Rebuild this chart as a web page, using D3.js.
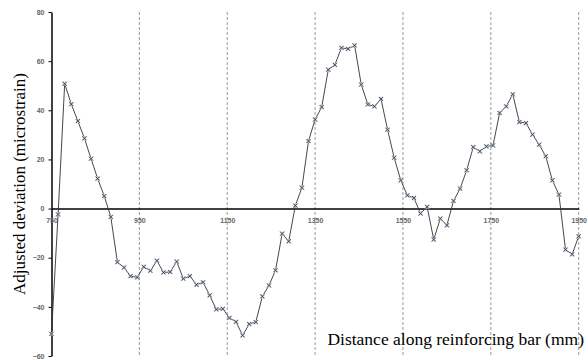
<!DOCTYPE html>
<html>
<head>
<meta charset="utf-8">
<script src="https://cdn.jsdelivr.net/npm/d3@7"></script>
<style>
body { margin: 0; background: #fff; }
svg { display: block; }
</style>
</head>
<body>
<svg width="588" height="360"></svg>
<script>
// distance along bar (mm) and adjusted deviation (microstrain)
var distances = [750, 765, 780, 795, 810, 825, 840, 855, 870, 885, 900, 915, 930, 945, 960, 975,
    990, 1005, 1020, 1035, 1050, 1065, 1080, 1095, 1110, 1125, 1140, 1155, 1170, 1185, 1200, 1215,
    1230, 1245, 1260, 1275, 1290, 1305, 1320, 1335, 1350, 1365, 1380, 1395, 1410, 1425, 1440, 1455,
    1470, 1485, 1500, 1515, 1530, 1545, 1560, 1575, 1590, 1605, 1620, 1635, 1650, 1665, 1680, 1695,
    1710, 1725, 1740, 1755, 1770, 1785, 1800, 1815, 1830, 1845, 1860, 1875, 1890, 1905, 1920, 1935, 1950];
var deviations = [-51, -2.4, 50.8, 42.5, 35.6, 28.6, 20.3, 12.2, 5.1, -3.4, -21.8, -24, -27.5, -28, -23.7, -25.3,
    -21.2, -26, -25.8, -21.6, -28.5, -27.5, -31, -30, -35.3, -41, -40.8, -44.5, -46.1, -51.6, -47, -46.2,
    -35.7, -31.3, -25.1, -10.2, -13.3, 1.2, 8.5, 27.5, 36.2, 41.3, 56.5, 58.5, 65.4, 65, 66.4, 50.5,
    42.4, 41.6, 44.6, 32.1, 20.7, 11.5, 5.4, 4.3, -2, 0.7, -12.6, -4.1, -6.8, 3.1, 8.1, 15.6,
    25, 23.3, 25.3, 25.7, 38.9, 41.6, 46.5, 35.2, 34.8, 30.1, 26, 21.3, 11.5, 5.7, -16.7, -18.6, -11.3];
var xTicks = [750, 950, 1150, 1350, 1550, 1750, 1950];
var gridLines = [950, 1150, 1350, 1550, 1750, 1950];
var yTicks = [-60, -40, -20, 0, 20, 40, 60, 80];

var data = distances.map(function(d, i) { return [d, deviations[i]]; });

var svg = d3.select("svg");

var x = d3.scaleLinear().domain([750, 1950]).range([51.5, 578.7]);
var y = d3.scaleLinear().domain([-60, 80]).range([356, 12]);

// dashed verticals
svg.append("g").selectAll("line")
    .data(gridLines)
    .enter().append("line")
    .attr("x1", function(d) { return x(d); })
    .attr("x2", function(d) { return x(d); })
    .attr("y1", y(80))
    .attr("y2", y(-60))
    .attr("stroke", "#9a9a9a")
    .attr("stroke-width", 1)
    .attr("stroke-dasharray", "3,2");

// y axis
var yAxis = d3.axisLeft(y).tickValues(yTicks).tickSize(3).tickSizeOuter(0).tickPadding(4);
var gy = svg.append("g")
    .attr("transform", "translate(" + x(750) + ",0)")
    .call(yAxis);
gy.select(".domain").attr("stroke", "#000").attr("stroke-width", 1.5);
gy.selectAll(".tick line").attr("stroke", "#000");
gy.selectAll("text")
    .attr("font-family", "'Liberation Sans', Arial, sans-serif")
    .attr("font-size", 7)
    .attr("font-weight", "bold")
    .attr("fill", "#666");

// x axis along zero
var xAxis = d3.axisBottom(x).tickValues(xTicks).tickFormat(d3.format("d"))
    .tickSize(0).tickSizeOuter(0).tickPadding(9);
var gx = svg.append("g")
    .attr("transform", "translate(0," + y(0) + ")")
    .call(xAxis);
gx.select(".domain").attr("stroke", "#000").attr("stroke-width", 1.5);
gx.selectAll("text")
    .attr("font-family", "'Liberation Sans', Arial, sans-serif")
    .attr("font-size", 7)
    .attr("font-weight", "bold")
    .attr("fill", "#666");

// series line
var line = d3.line()
    .x(function(d) { return x(d[0]); })
    .y(function(d) { return y(d[1]); });

svg.append("path")
    .datum(data)
    .attr("fill", "none")
    .attr("stroke", "#333")
    .attr("stroke-width", 0.9)
    .attr("d", line);

// x markers
var s = 2;
var cross = function(d) {
    var cx = x(d[0]), cy = y(d[1]);
    return "M" + (cx - s) + "," + (cy - s) + "L" + (cx + s) + "," + (cy + s) +
        "M" + (cx - s) + "," + (cy + s) + "L" + (cx + s) + "," + (cy - s);
};
var marks = svg.append("g");
marks.selectAll("path.halo")
    .data(data)
    .enter().append("path")
    .attr("class", "halo")
    .attr("d", cross)
    .attr("stroke", "#c3cddb")
    .attr("stroke-width", 1.8)
    .attr("fill", "none");
marks.selectAll("path.mk")
    .data(data)
    .enter().append("path")
    .attr("class", "mk")
    .attr("d", cross)
    .attr("stroke", "#2a3040")
    .attr("stroke-width", 0.8)
    .attr("fill", "none");

// axis titles
svg.append("text")
    .attr("transform", "translate(25," + ((y(80) + y(-60)) / 2) + ") rotate(-90)")
    .attr("text-anchor", "middle")
    .attr("font-family", "'Liberation Serif', 'Times New Roman', serif")
    .attr("font-size", 17)
    .attr("fill", "#000")
    .text("Adjusted deviation (microstrain)");

svg.append("text")
    .attr("x", 584)
    .attr("y", 345)
    .attr("text-anchor", "end")
    .attr("font-family", "'Liberation Serif', 'Times New Roman', serif")
    .attr("font-size", 17.5)
    .attr("fill", "#000")
    .text("Distance along reinforcing bar (mm)");
</script>
</body>
</html>
